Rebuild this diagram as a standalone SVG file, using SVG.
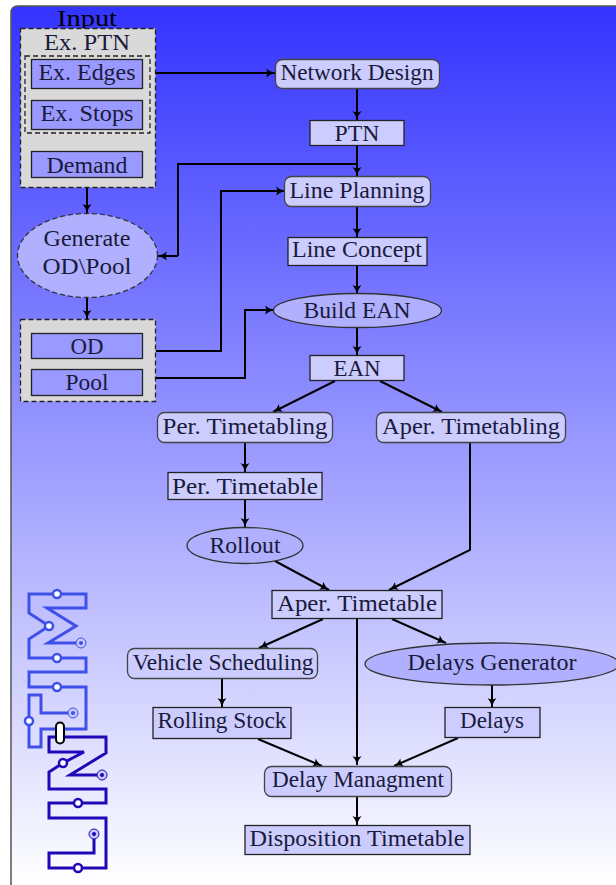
<svg xmlns="http://www.w3.org/2000/svg" width="616" height="885" viewBox="0 0 616 885">
<style>
text{font-family:"Liberation Serif","Times New Roman",serif;font-size:24px;fill:#1a1a3a;text-anchor:middle}
.c{fill:none;stroke:#000;stroke-width:2;marker-end:url(#a)}
.l{fill:none;stroke:#000;stroke-width:2}
.r{fill:#ccccff;stroke:#222;stroke-width:1.3}
.u{fill:#ccccff;stroke:#444;stroke-width:1.3}
.d{fill:#9999ff;stroke:#222;stroke-width:1.3}
.e{fill:#b0b0ff;stroke:#333;stroke-width:1.3}
.g{fill:#d9d9d9;stroke:#222;stroke-width:1.3;stroke-dasharray:5 3}
.h{fill:none;stroke:#222;stroke-width:1.3;stroke-dasharray:5 3}
.m1{fill:none;stroke:#3f50e8;stroke-width:3;stroke-linejoin:miter}
.m2{fill:none;stroke:#2008b8;stroke-width:3;stroke-linejoin:miter}
.o1{fill:#fff;stroke:#3f50e8;stroke-width:2.5}
.o2{fill:#fff;stroke:#2008b8;stroke-width:2.5}
</style>
<defs>
<linearGradient id="bg" x1="0" y1="0" x2="0" y2="1"><stop offset="0" stop-color="#3333ff"/><stop offset="1" stop-color="#ffffff"/></linearGradient>
<marker id="a" markerWidth="11" markerHeight="10" refX="9" refY="5" orient="auto" markerUnits="userSpaceOnUse"><path d="M0 0.5Q4 4 9 5Q4 6 0 9.500Q2.500 5 0 0.5Z" fill="#000"/></marker>
</defs>
<rect width="616" height="885" fill="#fff"/>
<path d="M11 885V13Q11 6 18 6H616V885Z" fill="url(#bg)"/>
<path d="M11 885V13Q11 6 18 6H616" fill="none" stroke="#555" stroke-width="1.5"/>

<g id="connectors">
<path class="c" d="M156 73H275"/>
<path class="c" d="M357 89V120"/>
<path class="c" d="M357 145V176"/>
<path class="l" d="M357 164H178V256"/>
<path class="c" d="M178 256H158"/>
<path class="c" d="M87 178V213"/>
<path class="c" d="M87 297V319"/>
<path class="c" d="M156 351H221V191H285"/>
<path class="c" d="M156 378H245V310H274"/>
<path class="c" d="M357 207V237"/>
<path class="c" d="M357 266V294"/>
<path class="c" d="M357 327V355"/>
<path class="c" d="M335 381L273 412"/>
<path class="c" d="M380 381L442 412"/>
<path class="c" d="M245 442V472"/>
<path class="c" d="M245 500V527"/>
<path class="c" d="M470 442V550L389 590"/>
<path class="c" d="M275 561L329 590"/>
<path class="c" d="M323 619L259 648"/>
<path class="c" d="M357 619V765"/>
<path class="c" d="M392 619L446 643"/>
<path class="c" d="M222 679V707"/>
<path class="c" d="M492 685V707"/>
<path class="c" d="M258 739L322 766"/>
<path class="c" d="M458 738L394 766"/>
<path class="c" d="M357 796V825"/>
</g>

<g id="input"><text x="87" y="26" textLength="60" lengthAdjust="spacingAndGlyphs" style="fill:#000">Input</text></g>
<g id="ex-ptn">
<rect class="g" x="20.500" y="28.500" width="135" height="159"/>
<text x="87" y="50" textLength="86" lengthAdjust="spacingAndGlyphs">Ex. PTN</text>
<rect class="h" x="25" y="56" width="125" height="77"/>
</g>
<g id="ex-edges"><rect class="d" x="31.500" y="59.500" width="111" height="29"/><text x="87" y="80" textLength="97" lengthAdjust="spacingAndGlyphs">Ex. Edges</text></g>
<g id="ex-stops"><rect class="d" x="31.500" y="100.500" width="111" height="29"/><text x="87" y="121" textLength="93" lengthAdjust="spacingAndGlyphs">Ex. Stops</text></g>
<g id="demand"><rect class="d" x="31.500" y="151.500" width="111" height="26"/><text x="87" y="173" textLength="81" lengthAdjust="spacingAndGlyphs">Demand</text></g>
<g id="generate"><ellipse class="e" cx="87.500" cy="255.500" rx="70" ry="42" stroke-dasharray="5 3"/><text x="87" y="246" textLength="87" lengthAdjust="spacingAndGlyphs">Generate</text><text x="87" y="274" textLength="89" lengthAdjust="spacingAndGlyphs">OD\Pool</text></g>
<g id="od-pool"><rect class="g" x="20.500" y="319.500" width="135" height="82"/></g>
<g id="od"><rect class="d" x="31.500" y="333.500" width="111" height="25"/><text x="87" y="354" textLength="33" lengthAdjust="spacingAndGlyphs">OD</text></g>
<g id="pool"><rect class="d" x="31.500" y="369.500" width="111" height="26"/><text x="87" y="390" textLength="43" lengthAdjust="spacingAndGlyphs">Pool</text></g>

<g id="network-design"><rect class="u" x="275.500" y="59.500" width="164" height="29" rx="7"/><text x="357" y="80" textLength="153" lengthAdjust="spacingAndGlyphs">Network Design</text></g>
<g id="ptn"><rect class="r" x="310" y="120.500" width="94" height="25"/><text x="357" y="141" textLength="45" lengthAdjust="spacingAndGlyphs">PTN</text></g>
<g id="line-planning"><rect class="u" x="284.500" y="176.500" width="146" height="30" rx="7"/><text x="357" y="198" textLength="135" lengthAdjust="spacingAndGlyphs">Line Planning</text></g>
<g id="line-concept"><rect class="r" x="288" y="237.500" width="139" height="28"/><text x="357" y="257" textLength="130" lengthAdjust="spacingAndGlyphs">Line Concept</text></g>
<g id="build-ean"><ellipse class="e" cx="357.500" cy="310.500" rx="84" ry="17"/><text x="357" y="318" textLength="107" lengthAdjust="spacingAndGlyphs">Build EAN</text></g>
<g id="ean"><rect class="r" x="310" y="355.500" width="94" height="25"/><text x="357" y="376" textLength="47" lengthAdjust="spacingAndGlyphs">EAN</text></g>
<g id="per-timetabling"><rect class="u" x="157.500" y="412.500" width="175" height="30" rx="7"/><text x="245" y="434" textLength="165" lengthAdjust="spacingAndGlyphs">Per. Timetabling</text></g>
<g id="aper-timetabling"><rect class="u" x="376.500" y="412.500" width="189" height="30" rx="7"/><text x="471" y="434" textLength="178" lengthAdjust="spacingAndGlyphs">Aper. Timetabling</text></g>
<g id="per-timetable"><rect class="r" x="168" y="472.500" width="154" height="27"/><text x="245" y="494" textLength="146" lengthAdjust="spacingAndGlyphs">Per. Timetable</text></g>
<g id="rollout"><ellipse class="e" cx="245" cy="545.500" rx="58" ry="18"/><text x="245" y="553" textLength="71" lengthAdjust="spacingAndGlyphs">Rollout</text></g>
<g id="aper-timetable"><rect class="r" x="272" y="590.500" width="170" height="28"/><text x="357" y="611" textLength="160" lengthAdjust="spacingAndGlyphs">Aper. Timetable</text></g>
<g id="vehicle-scheduling"><rect class="u" x="127.500" y="648.500" width="190" height="30" rx="7"/><text x="223" y="670" textLength="181" lengthAdjust="spacingAndGlyphs">Vehicle Scheduling</text></g>
<g id="delays-generator"><ellipse class="e" cx="492" cy="664" rx="127" ry="21"/><text x="492" y="670" textLength="169" lengthAdjust="spacingAndGlyphs">Delays Generator</text></g>
<g id="rolling-stock"><rect class="r" x="153" y="707.500" width="138" height="31"/><text x="222" y="728" textLength="129" lengthAdjust="spacingAndGlyphs">Rolling Stock</text></g>
<g id="delays"><rect class="r" x="445" y="707.500" width="95" height="30"/><text x="492" y="728" textLength="64" lengthAdjust="spacingAndGlyphs">Delays</text></g>
<g id="delay-managment"><rect class="u" x="264.500" y="766.500" width="187" height="30" rx="7"/><text x="358" y="787" textLength="172" lengthAdjust="spacingAndGlyphs">Delay Managment</text></g>
<g id="disposition-timetable"><rect class="r" x="245" y="825.500" width="225" height="29"/><text x="357" y="846" textLength="215" lengthAdjust="spacingAndGlyphs">Disposition Timetable</text></g>

<g id="logo">
<path class="m1" d="M29 721V695H41V713H73"/>
<path class="m1" d="M29 721V747H41V729H86V687H29V672H86V658H29V639L49 626L29 613V594H86V608H47L76 626L48 643H81"/>
<path class="m2" d="M102 775H70L106 753V737H49V752H84L63 763L49 772V789H106V803H49V818H106V868H49V853H94V834"/>
<circle class="o1" cx="57" cy="594" r="4"/>
<circle class="o1" cx="49" cy="626" r="4"/>
<circle class="o1" cx="57" cy="658" r="4"/>
<circle class="o1" cx="57" cy="687" r="4"/>
<circle class="o1" cx="29" cy="721" r="4"/>
<circle cx="81" cy="643" r="5" fill="#c5c8ff" stroke="#3f50e8"/><circle cx="81" cy="643" r="2" fill="#3f50e8"/>
<circle cx="73" cy="713" r="5" fill="#c5c8ff" stroke="#3f50e8"/><circle cx="73" cy="713" r="2" fill="#3f50e8"/>
<rect x="56" y="722.500" width="8" height="21" rx="4" fill="#fff" stroke="#000" stroke-width="2"/>
<circle class="o2" cx="63" cy="763" r="4"/>
<circle class="o2" cx="78" cy="803" r="4"/>
<circle class="o2" cx="78" cy="868" r="4"/>
<circle cx="102" cy="775" r="5" fill="#c5c8ff" stroke="#2008b8"/><circle cx="102" cy="775" r="2" fill="#2008b8"/>
<circle cx="94" cy="834" r="5" fill="#c5c8ff" stroke="#2008b8"/><circle cx="94" cy="834" r="2" fill="#2008b8"/>
</g>
</svg>
